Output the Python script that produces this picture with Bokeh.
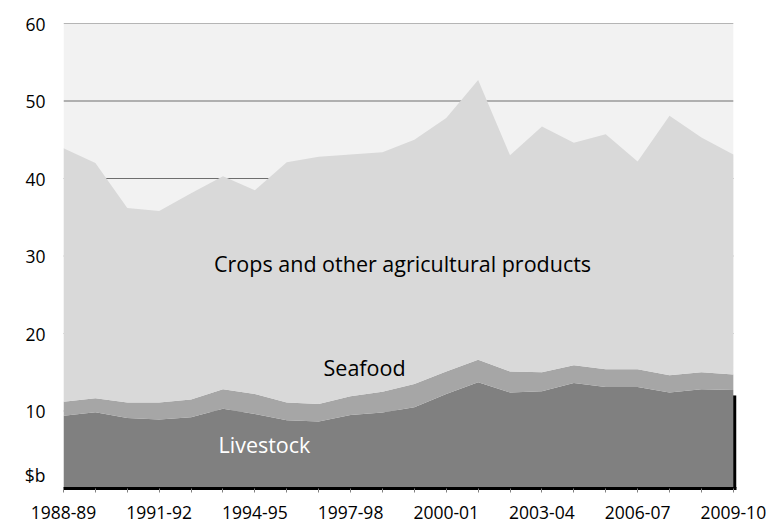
from bokeh.plotting import figure
from bokeh.models import ColumnDataSource, FixedTicker, Range1d
from bokeh.core.properties import value
from bokeh.embed import file_html
from bokeh.resources import INLINE

# Financial years
years = ["1988-89", "1989-90", "1990-91", "1991-92", "1992-93", "1993-94",
         "1994-95", "1995-96", "1996-97", "1997-98", "1998-99", "1999-00",
         "2000-01", "2001-02", "2002-03", "2003-04", "2004-05", "2005-06",
         "2006-07", "2007-08", "2008-09", "2009-10"]

# Export values, $b
livestock = [9.4, 9.85, 9.1, 8.9, 9.2, 10.3, 9.6, 8.8, 8.65, 9.5, 9.8,
             10.5, 12.2, 13.7, 12.4, 12.55, 13.6, 13.1, 13.1, 12.4, 12.8, 12.7]
seafood = [1.8, 1.8, 2.0, 2.2, 2.3, 2.5, 2.6, 2.3, 2.25, 2.4, 2.7,
           3.0, 2.9, 2.9, 2.7, 2.45, 2.3, 2.3, 2.3, 2.2, 2.2, 2.0]
crops = [32.7, 30.35, 25.1, 24.7, 26.6, 27.5, 26.3, 31.0, 31.9, 31.2, 30.9,
         31.5, 32.7, 36.1, 27.9, 31.7, 28.7, 30.3, 26.8, 33.5, 30.3, 28.4]

y_ticks = [0, 10, 20, 30, 40, 50, 60]
unit_label = "$b"
label_every = 3

FONT = "Open Sans"
n = len(years)
idx = list(range(n))
last = n - 1

source = ColumnDataSource(dict(x=idx, livestock=livestock, seafood=seafood, crops=crops))

p = figure(width=768, height=522, output_backend="svg", toolbar_location=None,
           x_range=Range1d(0, last + 0.1), y_range=Range1d(y_ticks[0], y_ticks[-1]),
           min_border_left=63, min_border_right=32, min_border_top=23, min_border_bottom=34)
p.outline_line_color = None
p.background_fill_color = "white"
p.border_fill_color = "white"
p.xgrid.visible = False
p.ygrid.visible = False

# plot area background
p.quad(left=[0], right=[last], bottom=[y_ticks[0]], top=[y_ticks[-1]],
       fill_color="#f2f2f2", line_color=None)

# horizontal gridlines
p.segment(x0=[0] * (len(y_ticks) - 1), x1=[last] * (len(y_ticks) - 1),
          y0=y_ticks[1:], y1=y_ticks[1:], line_color="#6e6e6e", line_width=1)

# drop shadow under the livestock band
p.varea(x=[i + 0.1 for i in idx], y1=[0] * n, y2=[v - 0.7 for v in livestock],
        fill_color="black")

p.varea_stack(stackers=["livestock", "seafood", "crops"], x="x",
              color=["#808080", "#a6a6a6", "#d9d9d9"], source=source)

# band labels
band_font = dict(text_font=value(FONT), text_font_size="21.5px",
                 text_align="center", text_baseline="middle")
p.text(x=[10.63], y=[29.0], text=["Crops and other agricultural products"],
       text_color="black", **band_font)
p.text(x=[9.44], y=[15.6], text=["Seafood"], text_color="black", **band_font)
p.text(x=[6.3], y=[5.65], text=["Livestock"], text_color="white", **band_font)

# x axis
xa = p.xaxis[0]
xa.ticker = FixedTicker(ticks=idx)
xa.major_label_overrides = {i: (years[i] if i % label_every == 0 else "") for i in idx}
xa.axis_line_color = "black"
xa.axis_line_width = 3
xa.major_tick_line_color = "#808080"
xa.major_tick_in = 0
xa.major_tick_out = 4
xa.minor_tick_line_color = None
xa.major_label_standoff = 13
xa.major_label_text_font = FONT
xa.major_label_text_font_size = "17.5px"
xa.major_label_text_color = "black"

# y axis; the unit sits a little above the baseline in place of 0
unit_pos = y_ticks[0] + 1.8
ya = p.yaxis[0]
ya.ticker = FixedTicker(ticks=[unit_pos] + y_ticks[1:])
ya.major_label_overrides = {unit_pos: unit_label}
ya.axis_line_color = None
ya.major_tick_line_color = None
ya.minor_tick_line_color = None
ya.major_tick_out = 0
ya.major_tick_in = 0
ya.major_label_standoff = 18
ya.major_label_text_font = FONT
ya.major_label_text_font_size = "17.5px"
ya.major_label_text_color = "black"

open("out.html", "w").write(file_html(p, INLINE))
